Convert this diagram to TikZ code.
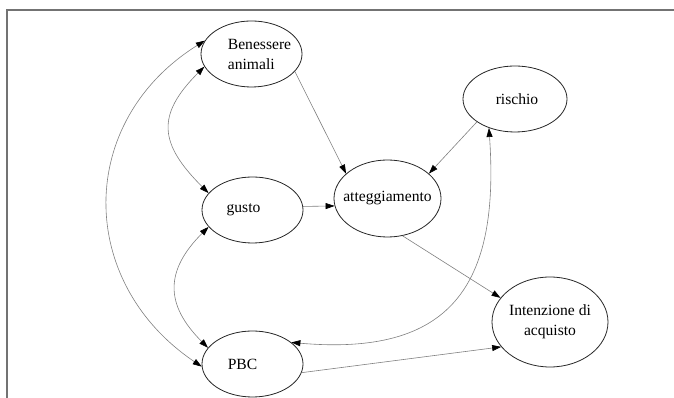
\documentclass[tikz,border=0pt]{standalone}
\usepackage{fontspec}
\setmainfont{Liberation Serif}
\usetikzlibrary{shapes.geometric,arrows.meta}

\begin{document}
\begin{tikzpicture}[x=1pt, y=1pt,
  font=\fontsize{15.6}{20}\selectfont,
  >={Triangle[length=9pt,width=6pt,color=black]},
  ell/.style={draw=black!85, line width=0.8pt, ellipse, inner sep=0pt},
  conn/.style={draw=black!50, line width=0.6pt}]
  \useasboundingbox (0,0) rectangle (674,398);

  % Frame
  \draw[black!55, line width=1.4pt] (7,0) -- (7,388) -- (674,388);

  % Constructs
  \node[ell, minimum width=101pt, minimum height=66pt,
    label={[align=left, xshift=8pt]center:{Benessere\\animali}}] (ben) at (251.5,344) {};
  \node[ell, minimum width=101pt, minimum height=66pt,
    label={[xshift=-9pt]center:gusto}] (gusto) at (252.5,188) {};
  \node[ell, minimum width=101pt, minimum height=66pt,
    label={[xshift=-10pt]center:PBC}] (pbc) at (252.5,34) {};
  \node[ell, minimum width=107pt, minimum height=77pt,
    label=center:atteggiamento] (att) at (387.5,199.5) {};
  \node[ell, minimum width=104pt, minimum height=66pt,
    label={[xshift=2pt]center:rischio}] (risk) at (515,299) {};
  \node[ell, minimum width=116pt, minimum height=90pt,
    label={[align=center]center:{Intenzione di\\acquisto}}] (int) at (550,76) {};

  % Paths
  \draw[conn, ->] (ben.-22) -- (att.149);
  \draw[conn, ->] (gusto.4) -- (att.188);
  \draw[conn, ->] (risk.211) -- (att.31);
  \draw[conn, ->] (att.-68) -- (int.154);
  \draw[conn, ->] (pbc.-10) -- (int.207);

  % Correlations
  \draw[conn, <->] (ben.195) to[out=225, in=135, looseness=1.4] (gusto.159);
  \draw[conn, <->] (gusto.201) to[out=225, in=135, looseness=1.3] (pbc.160);
  \draw[conn, <->] (ben.164) to[out=212, in=146, looseness=1.19] (pbc.183);
  \draw[conn, <->] (risk.228) to[out=-86, in=-5, looseness=1.4] (pbc.29);
\end{tikzpicture}
\end{document}
